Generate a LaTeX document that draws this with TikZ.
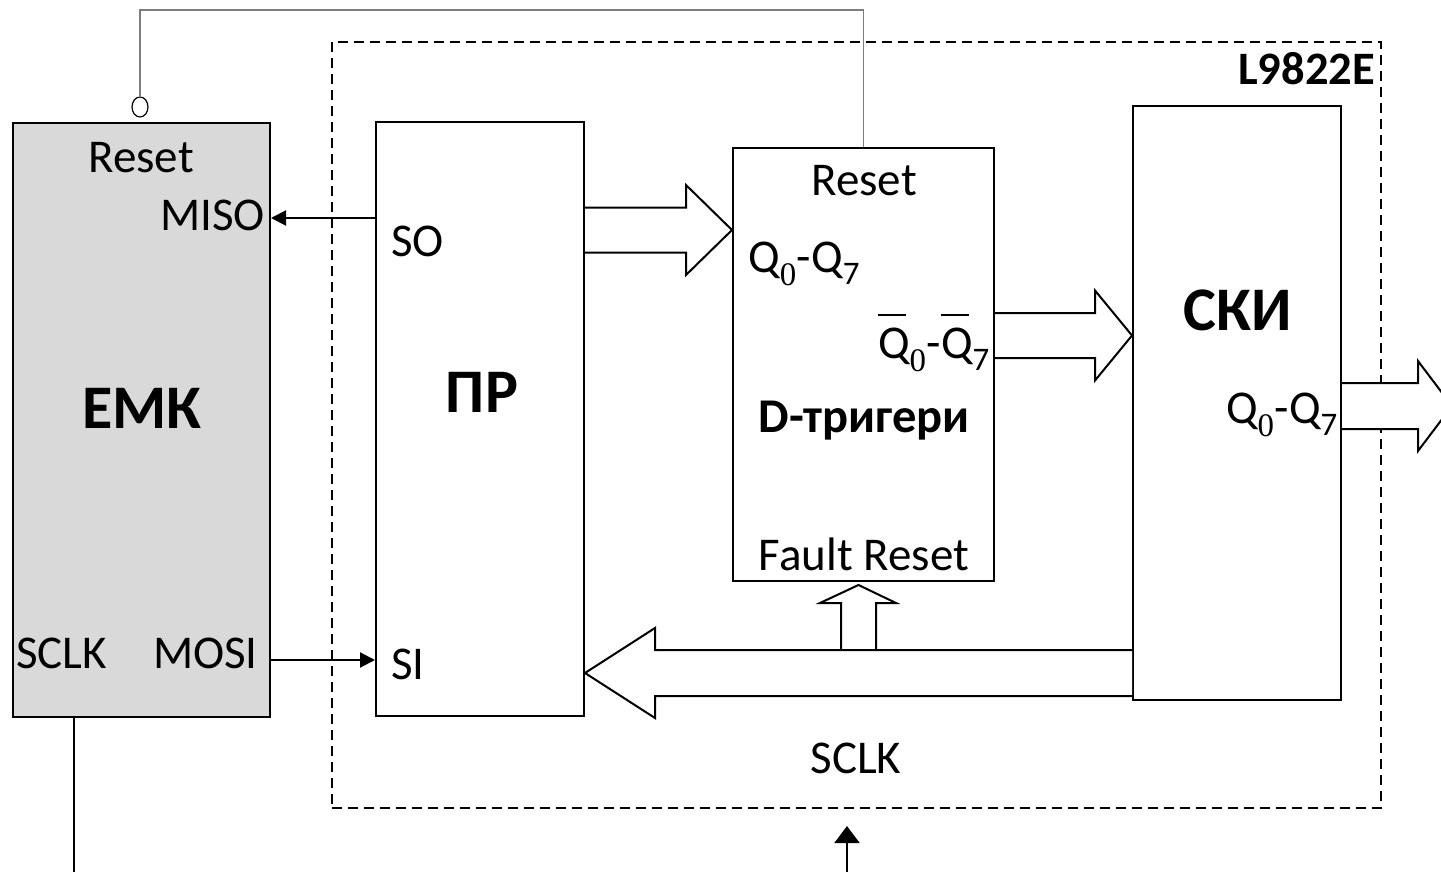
\documentclass[tikz,border=0pt]{standalone}
\usepackage{fontspec}
\setmainfont{Carlito}
\newfontfamily\subserif{Liberation Serif}
\usetikzlibrary{arrows.meta,shapes.geometric}

\definecolor{emkgray}{HTML}{D9D9D9}
\definecolor{wiregray}{HTML}{7F7F7F}

\newcommand{\qrange}{Q\textsubscript{\subserif 0}-Q\textsubscript{7}}
\newcommand{\negq}{\rlap{\raisebox{0.9em}{\rule{0.6em}{0.045em}}}Q}
\newcommand{\nqrange}{\negq\textsubscript{\subserif 0}-\negq\textsubscript{7}}

\begin{document}
\begin{tikzpicture}[
    x=1pt, y=-1pt,
    font=\fontsize{47}{56}\selectfont,
    block/.style={draw, line width=2pt, inner sep=0pt},
    frame/.style={draw, line width=2pt, dash pattern=on 10pt off 6pt, inner sep=0pt},
    lbl/.style={inner sep=0pt},
    title/.style={inner sep=0pt, font=\fontsize{62}{70}\selectfont\bfseries},
    bus/.style={draw, line width=2pt, fill=white, line join=miter},
    sig/.style={line width=2pt, -{Triangle[length=15pt,width=15pt]}},
    wire/.style={line width=1.6pt, draw=wiregray}
]
\useasboundingbox (0,0) rectangle (1441,872);
\clip (0,0) rectangle (1441,872);

% Chip frame
\node[frame, minimum width=1049pt, minimum height=766pt] (chip) at (856.5,425) {};
\node[lbl, font=\fontsize{46.5}{55}\selectfont\bfseries, anchor=base east] (chipname) at (1375,85) {L9822E};

% Blocks
\node[block, fill=emkgray, minimum width=257pt, minimum height=594pt] (emk) at (141.5,420) {};
\node[block, minimum width=208pt, minimum height=594pt] (pr) at (480,419) {};
\node[block, minimum width=261pt, minimum height=433pt] (dtr) at (863.5,364.5) {};
\node[block, minimum width=208pt, minimum height=594pt] (ski) at (1237,403) {};
\node[draw, ellipse, line width=1.2pt, minimum width=16pt, minimum height=20pt, inner sep=0pt] (inv) at (140,107) {};

% Labels in the blocks
\node[lbl, anchor=base] (emkreset) at (141,172) {Reset};
\node[lbl, anchor=base east] (miso) at (265,230) {MISO};
\node[title, anchor=base] (emkname) at (142,428) {ЕМК};
\node[lbl, anchor=base west] (emksclk) at (16,668) {SCLK};
\node[lbl, anchor=base east] (mosi) at (258,668) {MOSI};

\node[lbl, anchor=base west] (so) at (391,256) {SO};
\node[title, anchor=base] (prname) at (482,412) {ПР};
\node[lbl, anchor=base west] (si) at (391,679) {SI};

\node[lbl, anchor=base] (dreset) at (864,196) {Reset};
\node[lbl, anchor=base west] (dq) at (748,272) {\qrange};
\node[lbl, anchor=base east] (dnq) at (990,358) {\nqrange};
\node[lbl, font=\fontsize{48.5}{56}\selectfont\bfseries, anchor=base] (dname) at (864,432) {D-тригери};
\node[lbl, anchor=base] (fault) at (864,570) {Fault Reset};

\node[title, anchor=base] (skiname) at (1238,330) {СКИ};
\node[lbl, anchor=base east] (skiq) at (1338,423) {\qrange};

\node[lbl, anchor=base] (sclk) at (856,773) {SCLK};

% Single lines
\draw[wire] (dtr.north) -- (dtr.north |- 0,10) -| (inv.north);
\draw[sig] (pr.west |- 0,218) -- (emk.east |- 0,218);
\draw[sig] (emk.east |- 0,660) -- (pr.west |- 0,660);
\coordinate (sclkend) at (74,872);
\coordinate (sclksrc) at (847,872);
\draw[line width=1.5pt] (emk.south -| sclkend) -- (sclkend);
\draw[line width=2pt, -{Triangle[length=17pt,width=25pt]}, shorten >=17pt] (sclksrc) -- (chip.south -| sclksrc);

% Buses
\draw[bus] (pr.east |- 0,207.5) -- (686,207.5) -- (686,185) -- (dtr.west |- 0,230)
    -- (686,275) -- (686,252.5) -- (pr.east |- 0,252.5);
\draw[bus] (dtr.east |- 0,313) -- (1095,313) -- (1095,290.5) -- (ski.west |- 0,335.5)
    -- (1095,380.5) -- (1095,358) -- (dtr.east |- 0,358);
\draw[bus] (ski.east |- 0,383) -- (1418,383) -- (1418,361) -- (1452,406)
    -- (1418,451) -- (1418,429) -- (ski.east |- 0,429);
\draw[bus] (841,650) -- (841,603) -- (820,603) -- (858.5,585) -- (896,603)
    -- (876,603) -- (876,650);
\draw[bus] (ski.west |- 0,650) -- (655,650) -- (655,628) -- (pr.east |- 0,673)
    -- (655,718) -- (655,696) -- (ski.west |- 0,696);

\end{tikzpicture}
\end{document}
